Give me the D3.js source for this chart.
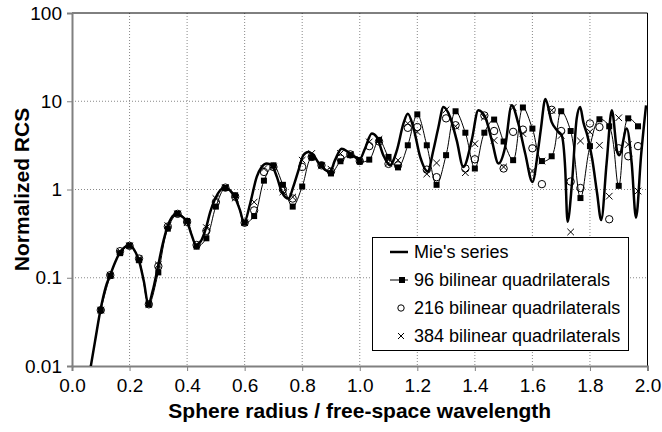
<!DOCTYPE html>
<html>
<head>
<meta charset="utf-8">
<script src="https://cdn.jsdelivr.net/npm/d3@7"></script>
<style>
  body { margin: 0; background: #fff; }
  svg { display: block; font-family: "Liberation Sans", Arial, sans-serif; }
</style>
</head>
<body>
<div id="chart"></div>
<script>
// Mie's series (exact solution)
const mieX = [0.065, 0.08, 0.1, 0.117, 0.133, 0.15, 0.167, 0.183, 0.2, 0.215,
  0.233, 0.25, 0.265, 0.28, 0.298, 0.315, 0.332, 0.35, 0.365, 0.38,
  0.4, 0.415, 0.431, 0.448, 0.465, 0.48, 0.497, 0.515, 0.532, 0.55,
  0.567, 0.584, 0.598, 0.619, 0.642, 0.659, 0.677, 0.694, 0.712, 0.729,
  0.752, 0.77, 0.787, 0.804, 0.821, 0.839, 0.862, 0.879, 0.896, 0.914,
  0.937, 0.96, 0.984, 1.001, 1.018, 1.042, 1.059, 1.082, 1.105, 1.129,
  1.152, 1.167, 1.186, 1.21, 1.236, 1.256, 1.273, 1.291, 1.314, 1.337,
  1.36, 1.389, 1.412, 1.436, 1.459, 1.482, 1.505, 1.528, 1.551, 1.575,
  1.6, 1.621, 1.63, 1.645, 1.667, 1.685, 1.702, 1.714, 1.722, 1.737,
  1.754, 1.766, 1.777, 1.791, 1.808, 1.825, 1.839, 1.858, 1.876, 1.895,
  1.902, 1.928, 1.945, 1.96, 1.978, 1.995];
const mieY = [0.0098, 0.019, 0.045, 0.078, 0.108, 0.15, 0.195, 0.222, 0.233, 0.21,
  0.155, 0.09, 0.05, 0.07, 0.13, 0.24, 0.38, 0.5, 0.535, 0.5,
  0.43, 0.31, 0.235, 0.26, 0.36, 0.55, 0.78, 0.98, 1.06, 0.97,
  0.8, 0.58, 0.42, 0.69, 1.39, 1.8, 1.97, 1.88, 1.39, 0.94,
  0.79, 1.1, 1.65, 2.45, 2.66, 2.45, 1.88, 1.68, 1.58, 2.15,
  2.9, 2.66, 2.34, 2.24, 2.9, 4.3, 3.94, 2.45, 1.88, 2.78,
  5.6, 7.2, 5.1, 2.34, 1.6, 2.8, 5.0, 8.6, 6.6, 3.6,
  1.8, 3.6, 7.9, 6.6, 3.6, 1.97, 3.0, 9.0, 5.6, 2.56,
  1.22, 3.0, 5.0, 10.6, 5.8, 4.7, 4.1, 1.73, 0.43, 1.12,
  6.4, 8.6, 5.8, 4.1, 2.2, 0.9, 0.45, 2.0, 7.9, 2.66,
  2.45, 4.9, 2.0, 0.48, 2.5, 9.0];

// sample points of the numerical solutions
const sampleX = [0.100, 0.133, 0.167, 0.200, 0.233, 0.267, 0.300, 0.333, 0.367, 0.400,
  0.433, 0.467, 0.500, 0.533, 0.567, 0.600, 0.633, 0.667, 0.700, 0.733,
  0.767, 0.800, 0.833, 0.867, 0.900, 0.933, 0.967, 1.000, 1.033, 1.067,
  1.100, 1.133, 1.167, 1.200, 1.233, 1.267, 1.300, 1.333, 1.367, 1.400,
  1.433, 1.467, 1.500, 1.533, 1.567, 1.600, 1.633, 1.667, 1.700, 1.733,
  1.767, 1.800, 1.833, 1.867, 1.900, 1.933, 1.967];
const quad96 = [0.043, 0.105, 0.19, 0.23, 0.158, 0.05, 0.115, 0.36, 0.53, 0.44,
  0.225, 0.28, 0.64, 1.04, 0.86, 0.42, 0.50, 1.26, 1.88, 1.13,
  0.64, 1.08, 2.3, 1.9, 1.52, 2.09, 2.45, 2.07, 2.18, 3.65,
  2.34, 1.78, 3.17, 7.1, 3.17, 1.13, 2.45, 7.7, 4.4, 1.73,
  4.4, 6.2, 3.5, 2.15, 8.5, 4.9, 2.1, 2.38, 7.7, 4.6,
  0.80, 3.1, 6.25, 5.2, 1.1, 6.4, 5.2];
const quad216 = [0.043, 0.107, 0.2, 0.23, 0.165, 0.05, 0.135, 0.38, 0.53, 0.43,
  0.235, 0.34, 0.72, 1.05, 0.83, 0.42, 0.58, 1.58, 1.8, 1.0,
  0.79, 1.8, 2.34, 1.88, 1.6, 2.24, 2.5, 2.1, 3.1, 3.5,
  1.95, 1.88, 5.0, 5.1, 1.68, 1.38, 6.4, 5.35, 1.73, 2.2,
  6.9, 4.6, 1.73, 4.5, 4.77, 2.93, 1.15, 8.0, 4.6, 1.23,
  1.04, 5.6, 5.1, 0.46, 2.93, 2.38, 3.1];
const quad384 = [0.043, 0.107, 0.2, 0.23, 0.165, 0.05, 0.14, 0.39, 0.53, 0.42,
  0.24, 0.37, 0.79, 1.05, 0.8, 0.42, 0.72, 1.73, 1.8, 0.94,
  0.82, 2.15, 2.56, 1.85, 1.7, 2.56, 2.5, 2.2, 3.46, 3.7,
  2.0, 2.15, 5.6, 4.5, 1.5, 2.0, 8.0, 5.2, 1.55, 3.3,
  6.6, 3.6, 1.8, 8.5, 4.3, 1.62, 2.1, 7.9, 4.1, 0.33,
  3.55, 4.5, 3.17, 0.84, 6.5, 3.23, 0.96];

const xTicks = [0, 0.2, 0.4, 0.6, 0.8, 1.0, 1.2, 1.4, 1.6, 1.8, 2.0];
const yTicks = [0.01, 0.1, 1, 10, 100];
const yTickLabels = ["0.01", "0.1", "1", "10", "100"];
const legendLabels = ["Mie's series", "96 bilinear quadrilaterals",
  "216 bilinear quadrilaterals", "384 bilinear quadrilaterals"];

const W = 662, H = 432;
const plot = { left: 72, right: 647.5, top: 13, bottom: 366 };

const svg = d3.select('#chart').append('svg')
  .attr('width', W).attr('height', H);

const x = d3.scaleLinear().domain([0, 2]).range([plot.left, plot.right]);
const y = d3.scaleLog().domain([0.01, 100]).range([plot.bottom, plot.top]);

// gridlines
svg.append('g').selectAll('line')
  .data(xTicks.slice(1, -1)).join('line')
  .attr('x1', d => x(d)).attr('x2', d => x(d))
  .attr('y1', plot.top).attr('y2', plot.bottom)
  .attr('stroke', '#888').attr('stroke-dasharray', '1,2');
svg.append('g').selectAll('line')
  .data(yTicks.slice(1, -1)).join('line')
  .attr('x1', plot.left).attr('x2', plot.right)
  .attr('y1', d => y(d)).attr('y2', d => y(d))
  .attr('stroke', '#888').attr('stroke-dasharray', '1,2');

// frame top / right
svg.append('path')
  .attr('d', `M${plot.left},${plot.top}H${plot.right}V${plot.bottom}`)
  .attr('fill', 'none').attr('stroke', '#000').attr('stroke-width', 1);

// axes
const xAxis = svg.append('g')
  .attr('transform', `translate(0,${plot.bottom})`)
  .call(d3.axisBottom(x).tickValues(xTicks).tickFormat(d3.format('.1f'))
    .tickSize(5).tickPadding(8));
const yAxis = svg.append('g')
  .attr('transform', `translate(${plot.left},0)`)
  .call(d3.axisLeft(y).tickValues(yTicks).tickFormat((d, i) => yTickLabels[i])
    .tickSize(5).tickPadding(5));
[xAxis, yAxis].forEach(a => {
  a.select('.domain').attr('stroke', '#808080').attr('stroke-width', 2);
  a.selectAll('.tick line').attr('stroke', '#808080');
  a.selectAll('.tick text').attr('fill', '#000')
    .style('font-size', '19px').style('font-family', '"Liberation Sans", Arial, sans-serif');
});

// axis titles
svg.append('text')
  .attr('x', (plot.left + plot.right) / 2).attr('y', 418)
  .attr('text-anchor', 'middle')
  .style('font-size', '21px').style('font-weight', 'bold')
  .text('Sphere radius / free-space wavelength');
svg.append('text')
  .attr('transform', `translate(29,${(plot.top + plot.bottom) / 2}) rotate(-90)`)
  .attr('text-anchor', 'middle')
  .style('font-size', '21px').style('font-weight', 'bold')
  .text('Normalized RCS');

// clip to plot area
svg.append('clipPath').attr('id', 'clip')
  .append('rect')
  .attr('x', plot.left).attr('y', plot.top)
  .attr('width', plot.right - plot.left).attr('height', plot.bottom - plot.top);

const g = svg.append('g').attr('clip-path', 'url(#clip)');

const mie = mieX.map((v, i) => ({ x: v, y: mieY[i] }));
const s96 = sampleX.map((v, i) => ({ x: v, y: quad96[i] }));
const s216 = sampleX.map((v, i) => ({ x: v, y: quad216[i] }));
const s384 = sampleX.map((v, i) => ({ x: v, y: quad384[i] }));

const mieLine = d3.line().x(d => x(d.x)).y(d => y(d.y)).curve(d3.curveMonotoneX);
const quadLine = d3.line().x(d => x(d.x)).y(d => y(d.y)).curve(d3.curveCatmullRom.alpha(0.5));

g.append('path').datum(mie)
  .attr('d', mieLine)
  .attr('fill', 'none').attr('stroke', '#000').attr('stroke-width', 2.5);

g.append('path').datum(s96)
  .attr('d', quadLine)
  .attr('fill', 'none').attr('stroke', '#000').attr('stroke-width', 1);

g.append('g').selectAll('rect').data(s96).join('rect')
  .attr('x', d => x(d.x) - 3).attr('y', d => y(d.y) - 3)
  .attr('width', 6).attr('height', 6).attr('fill', '#000');

g.append('g').selectAll('circle').data(s216).join('circle')
  .attr('cx', d => x(d.x)).attr('cy', d => y(d.y)).attr('r', 3.7)
  .attr('fill', 'none').attr('stroke', '#000').attr('stroke-width', 1);

const cross = (px, py, r) => `M${px - r},${py - r}L${px + r},${py + r}M${px - r},${py + r}L${px + r},${py - r}`;
g.append('g').selectAll('path').data(s384).join('path')
  .attr('d', d => cross(x(d.x), y(d.y), 3.3))
  .attr('fill', 'none').attr('stroke', '#000').attr('stroke-width', 1);

// legend
const lg = svg.append('g');
lg.append('rect')
  .attr('x', 372.5).attr('y', 237.5).attr('width', 256).attr('height', 113)
  .attr('fill', '#fff').attr('stroke', '#000').attr('stroke-width', 1);
const rowY = [252, 280, 308, 336];
lg.selectAll('text').data(legendLabels).join('text')
  .attr('x', 414).attr('y', (d, i) => rowY[i]).attr('dy', '0.35em')
  .style('font-size', '18px').text(d => d);
lg.append('line').attr('x1', 390).attr('x2', 408).attr('y1', rowY[0]).attr('y2', rowY[0])
  .attr('stroke', '#000').attr('stroke-width', 2.5);
lg.append('line').attr('x1', 390).attr('x2', 408).attr('y1', rowY[1]).attr('y2', rowY[1])
  .attr('stroke', '#000').attr('stroke-width', 1);
lg.append('rect').attr('x', 399).attr('y', rowY[1] - 3).attr('width', 6).attr('height', 6).attr('fill', '#000');
lg.append('circle').attr('cx', 401).attr('cy', rowY[2]).attr('r', 3.2)
  .attr('fill', 'none').attr('stroke', '#000');
lg.append('path').attr('d', cross(401, rowY[3], 3))
  .attr('fill', 'none').attr('stroke', '#000');
</script>
</body>
</html>
